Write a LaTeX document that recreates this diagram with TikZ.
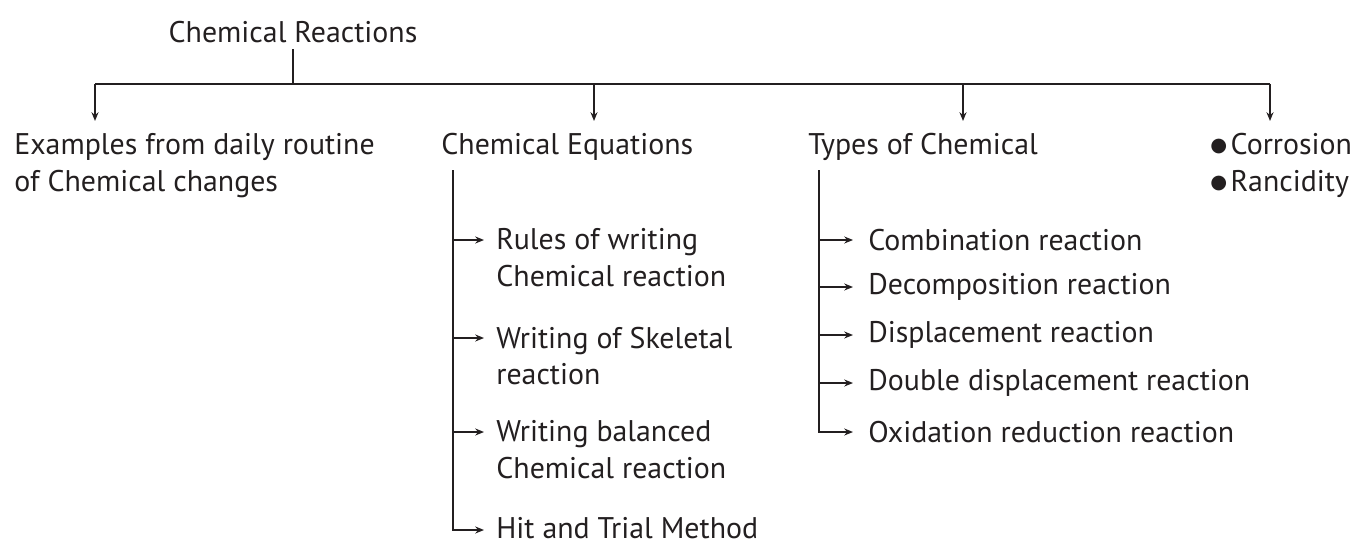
\documentclass[tikz,border=0pt]{standalone}
\usepackage{fontspec}
\setmainfont{PT Sans}
\newfontfamily\dotfont{DejaVu Sans}
\usepackage{xcolor}
\definecolor{inkgray}{RGB}{35, 31, 32}
\usepackage{tikz}
\usetikzlibrary{arrows.meta}

\newcommand{\dotitem}{\raisebox{1.5pt}{\dotfont\fontsize{11}{21}\selectfont ●}\hspace{2pt}}

\begin{document}
\begin{tikzpicture}[x=0.02cm, y=-0.02cm,
    every node/.style={inkgray, font=\fontsize{17}{21}\selectfont, inner sep=0pt},
    txt/.style={anchor=west, align=left},
    arr/.style={-{Stealth[length=5pt, width=4pt]}},
    link/.style={inkgray, line width=1.1pt}]
      \useasboundingbox (0,0) rectangle (1355,544);

      \coordinate (bus) at (293, 84);
      \coordinate (busL) at (95, 84);
      \coordinate (busR) at (1270, 84);
      \coordinate (eqtop) at (453, 170);
      \coordinate (tytop) at (819, 170);

      \node (root) at (293, 32) {Chemical Reactions};
      \node[txt] (daily) at (14, 166) {Examples from daily routine\\of Chemical changes};
      \node[txt] (eqn) at (441, 147) {Chemical Equations};
      \node[txt] (types) at (808, 147) {Types of Chemical};
      \node[txt] (rust) at (1210, 165) {\dotitem Corrosion\\\dotitem Rancidity};

      \node[txt] (rules) at (496, 258) {Rules of writing\\Chemical reaction};
      \node[txt] (skel) at (496, 356) {Writing of Skeletal\\reaction};
      \node[txt] (bal) at (496, 450) {Writing balanced\\Chemical reaction};
      \node[txt] (hit) at (496, 528) {Hit and Trial Method};

      \node[txt] (comb) at (868, 240) {Combination reaction};
      \node[txt] (decomp) at (868, 287) {Decomposition reaction};
      \node[txt] (disp) at (868, 335) {Displacement reaction};
      \node[txt] (ddisp) at (868, 383) {Double displacement reaction};
      \node[txt] (redox) at (868, 432) {Oxidation reduction reaction};

      % arrow ends in front of the texts
      \coordinate (rules-in) at (484, 240);
      \coordinate (skel-in) at (484, 338);
      \coordinate (bal-in) at (484, 432);
      \coordinate (hit-in) at (484, 530);
      \coordinate (comb-in) at (853, 240);
      \coordinate (decomp-in) at (853, 287);
      \coordinate (disp-in) at (853, 335);
      \coordinate (ddisp-in) at (853, 383);
      \coordinate (redox-in) at (853, 432);

      \draw[link] (root.south) ++(0, 6) -- (bus);
      \draw[link] (busL) -- (busR);
      \draw[link, arr] (busL) -- (95, 121);
      \draw[link, arr] (594, 84) -- (594, 121);
      \draw[link, arr] (963, 84) -- (963, 121);
      \draw[link, arr] (busR) -- (1270, 121);

      \draw[link, arr] (eqtop) |- (hit-in);
      \draw[link, arr] (eqtop |- rules-in) -- (rules-in);
      \draw[link, arr] (eqtop |- skel-in) -- (skel-in);
      \draw[link, arr] (eqtop |- bal-in) -- (bal-in);

      \draw[link, arr] (tytop) |- (redox-in);
      \draw[link, arr] (tytop |- comb-in) -- (comb-in);
      \draw[link, arr] (tytop |- decomp-in) -- (decomp-in);
      \draw[link, arr] (tytop |- disp-in) -- (disp-in);
      \draw[link, arr] (tytop |- ddisp-in) -- (ddisp-in);
\end{tikzpicture}
\end{document}
